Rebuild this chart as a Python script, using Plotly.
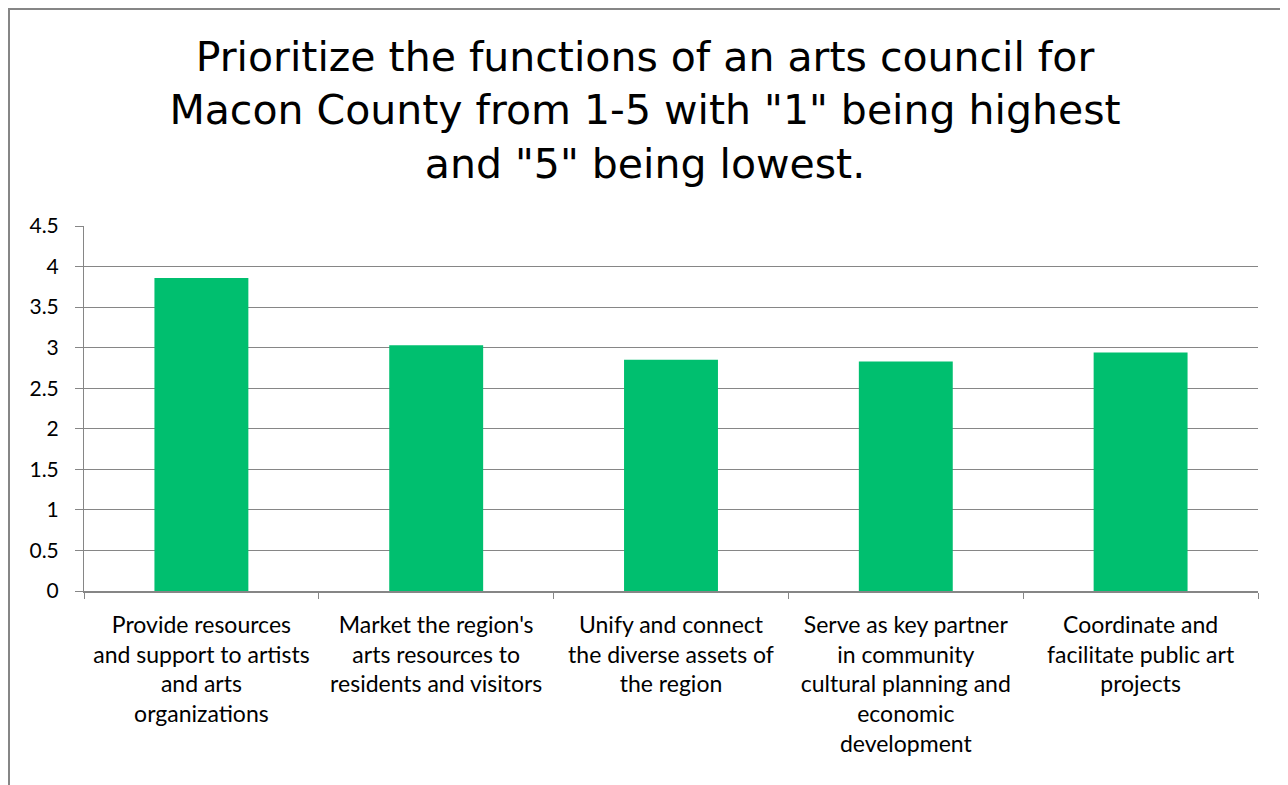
import plotly.graph_objects as go

categories = [
    "Provide resources<br>and support to artists<br>and arts<br>organizations",
    "Market the region's<br>arts resources to<br>residents and visitors",
    "Unify and connect<br>the diverse assets of<br>the region",
    "Serve as key partner<br>in community<br>cultural planning and<br>economic<br>development",
    "Coordinate and<br>facilitate public art<br>projects",
]
values = [3.86, 3.03, 2.85, 2.83, 2.94]
y_ticks = [0, 0.5, 1, 1.5, 2, 2.5, 3, 3.5, 4, 4.5]
y_tick_labels = ["0", "0.5", "1", "1.5", "2", "2.5", "3", "3.5", "4", "4.5"]

title_text = ('Prioritize the functions of an arts council for<br>'
              'Macon County from 1-5 with "1" being highest<br>'
              'and "5" being lowest.')

GRID = "#868686"
# page has an 8px body margin; figure coordinates are page - 8
W, H = 1280, 777
L, R, T, B = 76, 30, 218, 194
pw, ph = W - L - R, H - T - B

fig = go.Figure(go.Bar(
    x=categories, y=values, marker=dict(color="#00BF6F", line=dict(width=0)),
    width=0.4,
))

fig.update_layout(
    width=W, height=H,
    margin=dict(l=L, r=R, t=T, b=B),
    paper_bgcolor="white", plot_bgcolor="white",
    showlegend=False,
    title=dict(text=title_text, x=637 / W, xanchor="center", xref="container",
               y=1 - 63 / H, yanchor="middle", yref="container",
               font=dict(family="DejaVu Sans", size=41, color="black")),
    font=dict(family="Lato, Calibri", color="black"),
)
fig.update_yaxes(
    range=[0, 4.5], tickvals=y_ticks, ticktext=y_tick_labels,
    showgrid=True, gridcolor=GRID, gridwidth=1,
    showline=True, linecolor=GRID, linewidth=1,
    ticks="outside", ticklen=8, tickcolor=GRID,
    tickfont=dict(size=21, family="Lato, Calibri"),
    ticklabelstandoff=12,
    zeroline=False, fixedrange=True,
)
fig.update_xaxes(
    showline=True, linecolor=GRID, linewidth=2,
    ticks="outside", ticklen=6, tickcolor=GRID, tickson="boundaries",
    tickfont=dict(size=23, family="Lato, Calibri"),
    ticklabelstandoff=12,
    tickangle=0,
)

# outer chart border
x0 = (1 - L) / pw
x1 = (1279 - L) / pw
y1 = (H - 1 - B) / ph
y0 = (-20 - B) / ph
fig.add_shape(type="rect", xref="paper", yref="paper", x0=x0, x1=x1, y0=y0, y1=y1,
              line=dict(color=GRID, width=2), fillcolor="rgba(0,0,0,0)", layer="below")

fig.write_html("out.html")
